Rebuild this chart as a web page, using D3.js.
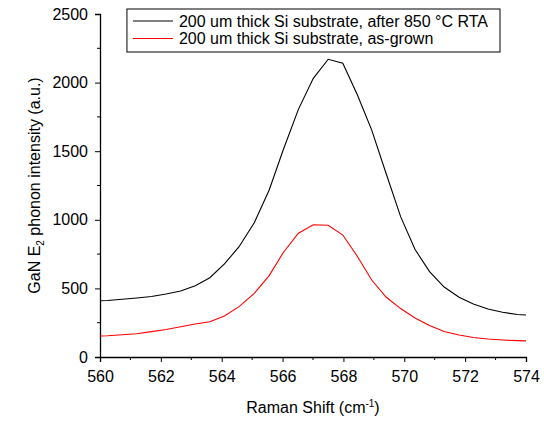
<!DOCTYPE html>
<html>
<head>
<meta charset="utf-8">
<script src="https://cdn.jsdelivr.net/npm/d3@7"></script>
<style>
  body { margin: 0; background: #fff; }
  text { font-family: "Liberation Sans", Arial, sans-serif; fill: #000; }
</style>
</head>
<body>
<div id="chart"></div>
<script>
// Raman shift positions (cm-1)
var shifts = [559.77, 560.25, 560.73, 561.21, 561.69, 562.17, 562.65, 563.13, 563.61, 564.09,
              564.57, 565.07, 565.56, 566.02, 566.52, 567.01, 567.50, 567.98, 568.46, 568.93,
              569.40, 569.88, 570.35, 570.83, 571.31, 571.80, 572.27, 572.75, 573.23, 573.71, 574.19];

// after 850 C RTA
var annealed = [409, 412, 421, 430, 441, 459, 481, 520, 578, 678,
                804, 979, 1217, 1509, 1805, 2031, 2170, 2141, 1910, 1654,
                1339, 1023, 785, 622, 510, 435, 386, 350, 326, 310, 303];

// as-grown
var asGrown = [152, 155, 162, 170, 185, 200, 221, 240, 257, 299,
               367, 464, 593, 760, 902, 964, 960, 889, 733, 561,
               437, 353, 284, 230, 186, 160, 142, 131, 124, 119, 116];

var xTicks = [560, 562, 564, 566, 568, 570, 572, 574];
var yTicks = [0, 500, 1000, 1500, 2000, 2500];

var seriesNames = ['200 um thick Si substrate, after 850 \u00B0C RTA',
                   '200 um thick Si substrate, as-grown'];
var seriesColors = ['#000000', '#ff0000'];

var svgWidth = 544, svgHeight = 421;
var margin = {top: 14, right: 18, bottom: 64, left: 100};
var width = svgWidth - margin.left - margin.right;
var height = svgHeight - margin.top - margin.bottom;

var svg = d3.select('#chart').append('svg')
    .attr('width', svgWidth).attr('height', svgHeight);

var g = svg.append('g')
    .attr('transform', 'translate(' + margin.left + ',' + margin.top + ')');

var x = d3.scaleLinear().domain([560, 574]).range([0, width]);
var y = d3.scaleLinear().domain([0, 2500]).range([height, 0]);

// clip
svg.append('defs').append('clipPath').attr('id', 'clip')
    .append('rect').attr('width', width).attr('height', height);

// minor ticks
var xMinor = d3.range(561, 574, 2);
var yMinor = d3.range(250, 2500, 500);

var xAxis = g.append('g')
    .attr('transform', 'translate(0,' + height + ')')
    .call(d3.axisBottom(x).tickValues(xTicks).tickSize(5).tickPadding(9).tickFormat(d3.format('d')));
xAxis.append('g').selectAll('line').data(xMinor).enter().append('line')
    .attr('x1', function(d) { return x(d); }).attr('x2', function(d) { return x(d); })
    .attr('y1', 0).attr('y2', 3).attr('stroke', '#000');

var yAxis = g.append('g')
    .call(d3.axisLeft(y).tickValues(yTicks).tickSize(5).tickPadding(7).tickFormat(d3.format('d')));
yAxis.append('g').selectAll('line').data(yMinor).enter().append('line')
    .attr('y1', function(d) { return y(d); }).attr('y2', function(d) { return y(d); })
    .attr('x1', 0).attr('x2', -3).attr('stroke', '#000');

g.selectAll('.domain').attr('stroke', '#000').attr('stroke-width', 1.3);
g.selectAll('.tick line').attr('stroke', '#000');
g.selectAll('.tick text').style('font-size', '16px').attr('fill', '#000');

// lines
var line = d3.line()
    .x(function(d, i) { return x(shifts[i]); })
    .y(function(d) { return y(d); });

var plot = g.append('g').attr('clip-path', 'url(#clip)');
[annealed, asGrown].forEach(function(s, i) {
    plot.append('path').datum(s)
        .attr('d', line)
        .attr('fill', 'none')
        .attr('stroke', seriesColors[i])
        .attr('stroke-width', 1.1);
});

// axis titles
var xt = svg.append('text')
    .attr('x', margin.left + width / 2).attr('y', 413)
    .attr('text-anchor', 'middle').style('font-size', '16px');
xt.append('tspan').text('Raman Shift (cm');
xt.append('tspan').attr('dy', -6).style('font-size', '10px').text('-1');
xt.append('tspan').attr('dy', 6).text(')');

var yt = svg.append('text')
    .attr('transform', 'translate(40,' + (margin.top + height / 2) + ') rotate(-90)')
    .attr('text-anchor', 'middle').style('font-size', '16px');
yt.append('tspan').text('GaN E');
yt.append('tspan').attr('dy', 4).style('font-size', '10px').text('2');
yt.append('tspan').attr('dy', -4).text(' phonon intensity (a.u.)');

// legend, right-aligned to the box edge
var legend = svg.append('g');
var box = legend.append('rect')
    .attr('y', 9).attr('height', 43)
    .attr('fill', '#fff').attr('stroke', '#000').attr('stroke-width', 1);
var textEnd = 488, maxLen = 0;
var labels = seriesNames.map(function(name, i) {
    var t = legend.append('text')
        .attr('y', 26.5 + i * 17.5)
        .style('font-size', '16px').text(name);
    maxLen = Math.max(maxLen, t.node().getComputedTextLength());
    return t;
});
var textStart = textEnd - maxLen;
labels.forEach(function(t, i) {
    var ly = 21 + i * 17.5;
    t.attr('x', textStart);
    legend.append('line')
        .attr('x1', textStart - 46).attr('x2', textStart - 6).attr('y1', ly).attr('y2', ly)
        .attr('stroke', seriesColors[i]).attr('stroke-width', 1.1);
});
box.attr('x', textStart - 52).attr('width', 500 - (textStart - 52));
</script>
</body>
</html>
